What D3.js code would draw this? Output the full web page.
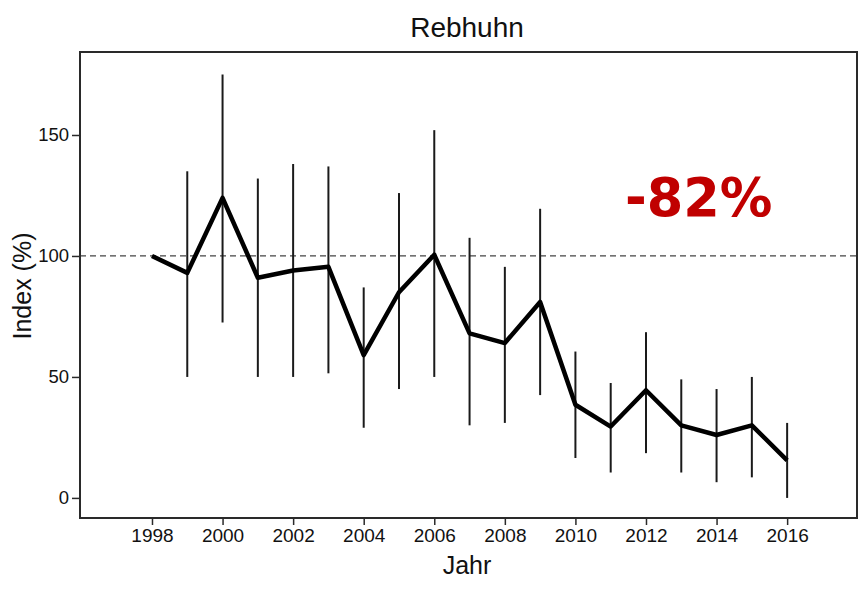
<!DOCTYPE html>
<html>
<head>
<meta charset="utf-8">
<script src="https://cdn.jsdelivr.net/npm/d3@7"></script>
<style>
  html, body { margin: 0; padding: 0; background: #fff; }
  svg { display: block; }
  text { font-family: "Liberation Sans", Arial, sans-serif; fill: #111; }
</style>
</head>
<body>
<svg id="chart" width="866" height="592"></svg>
<script>
// Rebhuhn population index (%), base year 1998 = 100
const years   = [1998, 1999, 2000, 2001, 2002, 2003, 2004, 2005, 2006, 2007, 2008, 2009, 2010, 2011, 2012, 2013, 2014, 2015, 2016];
const index   = [100, 93, 124, 91, 94, 95.5, 59, 85, 100.5, 68, 64, 81, 38.5, 29.5, 44.5, 30, 26, 30, 15.5];
const upper   = [null, 135, 175, 132, 138, 137, 87, 126, 152, 107.5, 95.5, 119.5, 60.5, 47.5, 68.5, 49, 45, 50, 31];
const lower   = [null, 50, 72.5, 50, 50, 51.5, 29, 45, 50, 30, 31, 42.5, 16.5, 10.5, 18.5, 10.5, 6.5, 8.5, 0];
const xTicks  = [1998, 2000, 2002, 2004, 2006, 2008, 2010, 2012, 2014, 2016];
const yTicks  = [0, 50, 100, 150];
const change  = "-82%";

const svg = d3.select("#chart");
const box = { left: 80, top: 52, right: 857, bottom: 518 };

const x = d3.scaleLinear().domain([1995.96, 2017.98]).range([box.left, box.right]);
const y = d3.scaleLinear().domain([-8.3, 184.3]).range([box.bottom, box.top]);

const rows = years.map((yr, i) => ({ yr, v: index[i], hi: upper[i], lo: lower[i] }));

// title
svg.append("text")
  .attr("x", 467).attr("y", 37)
  .attr("text-anchor", "middle")
  .style("font-size", "28px")
  .text("Rebhuhn");

// reference line at 100 %
svg.append("line")
  .attr("x1", box.left).attr("x2", box.right)
  .attr("y1", y(100)).attr("y2", y(100))
  .attr("stroke", "#444").attr("stroke-width", 1.3)
  .attr("stroke-dasharray", "6,4");

// confidence intervals
svg.append("g").selectAll("line")
  .data(rows.filter(d => d.hi !== null))
  .join("line")
  .attr("x1", d => x(d.yr)).attr("x2", d => x(d.yr))
  .attr("y1", d => y(d.hi)).attr("y2", d => y(d.lo))
  .attr("stroke", "#1a1a1a").attr("stroke-width", 2);

// index line
svg.append("path")
  .datum(rows)
  .attr("fill", "none")
  .attr("stroke", "#000")
  .attr("stroke-width", 4.5)
  .attr("stroke-linejoin", "round")
  .attr("d", d3.line().x(d => x(d.yr)).y(d => y(d.v)));

// plot frame
svg.append("rect")
  .attr("x", box.left).attr("y", box.top)
  .attr("width", box.right - box.left).attr("height", box.bottom - box.top)
  .attr("fill", "none").attr("stroke", "#2a2a2a").attr("stroke-width", 2);

// x axis
const xAxis = svg.append("g")
  .attr("transform", `translate(0,${box.bottom})`)
  .call(d3.axisBottom(x).tickValues(xTicks).tickFormat(d3.format("d")).tickSize(7).tickPadding(4));
xAxis.select(".domain").remove();
xAxis.selectAll(".tick line").attr("stroke", "#2a2a2a").attr("stroke-width", 1.5);
xAxis.selectAll(".tick text")
  .style("font-size", "19px")
  .style("font-family", "'Liberation Sans', Arial, sans-serif")
  .attr("fill", "#222");

// y axis
const yAxis = svg.append("g")
  .attr("transform", `translate(${box.left},0)`)
  .call(d3.axisLeft(y).tickValues(yTicks).tickSize(8).tickPadding(3));
yAxis.select(".domain").remove();
yAxis.selectAll(".tick line").attr("stroke", "#2a2a2a").attr("stroke-width", 1.5);
yAxis.selectAll(".tick text")
  .style("font-size", "18.5px")
  .style("font-family", "'Liberation Sans', Arial, sans-serif")
  .attr("fill", "#222");

// axis titles
svg.append("text")
  .attr("x", 467).attr("y", 574)
  .attr("text-anchor", "middle")
  .style("font-size", "25px")
  .text("Jahr");

svg.append("text")
  .attr("transform", "translate(31,286) rotate(-90)")
  .attr("text-anchor", "middle")
  .style("font-size", "25px")
  .text("Index (%)");

// overall change annotation
svg.append("text")
  .attr("x", 625).attr("y", 216)
  .style("font-family", "'DejaVu Sans', Verdana, sans-serif")
  .style("font-weight", "bold")
  .style("font-size", "52.5px")
  .style("fill", "#c00000")
  .text(change);
</script>
</body>
</html>
